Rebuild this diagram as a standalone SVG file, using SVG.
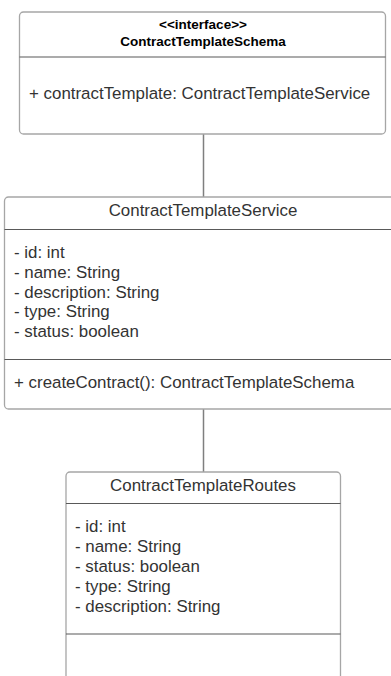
<svg xmlns="http://www.w3.org/2000/svg" width="391" height="676" viewBox="0 0 391 676">
<style>
.box{fill:#fff;stroke:#a6a6a6;stroke-width:1.3}
.div{stroke:#595959;stroke-width:1.2}
.con{stroke:#7f7f7f;stroke-width:1.5;fill:none}
text{font-family:"Liberation Sans",Arial,sans-serif;fill:#333}
.t{font-size:16.9px;text-anchor:middle}
.tb{font-size:13.5px;font-weight:bold;text-anchor:middle;fill:#000}
.a{font-size:16.9px}
</style>
<rect width="391" height="676" fill="#fff"/>
<g id="connectors">
<line class="con" x1="203.5" y1="134" x2="203.5" y2="197"/>
<line class="con" x1="203.5" y1="409" x2="203.5" y2="472"/>
</g>
<g id="ContractTemplateSchema">
<rect class="box" x="19.5" y="12" width="366" height="122" rx="4"/>
<line class="div" x1="19.5" y1="57" x2="385.5" y2="57"/>
<text class="tb" x="203" y="29">&lt;&lt;interface&gt;&gt;</text>
<text class="tb" x="203" y="46">ContractTemplateSchema</text>
<text class="a" x="29" y="99">+ contractTemplate: ContractTemplateService</text>
</g>
<g id="ContractTemplateService">
<rect class="box" x="4.5" y="197" width="390" height="212" rx="4"/>
<line class="div" x1="4.5" y1="229.5" x2="394" y2="229.5"/>
<line class="div" x1="4.5" y1="359.5" x2="394" y2="359.5"/>
<text class="t" x="203" y="216">ContractTemplateService</text>
<text class="a" x="14" y="258">- id: int</text>
<text class="a" x="14" y="277.5">- name: String</text>
<text class="a" x="14" y="297.5">- description: String</text>
<text class="a" x="14" y="317">- type: String</text>
<text class="a" x="14" y="337">- status: boolean</text>
<text class="a" x="14" y="387.5">+ createContract(): ContractTemplateSchema</text>
</g>
<g id="ContractTemplateRoutes">
<rect class="box" x="66" y="472" width="274.5" height="220" rx="4"/>
<line class="div" x1="66" y1="503.5" x2="340.5" y2="503.5"/>
<line class="div" x1="66" y1="634" x2="340.5" y2="634"/>
<text class="t" x="203" y="491">ContractTemplateRoutes</text>
<text class="a" x="75" y="532">- id: int</text>
<text class="a" x="75" y="552">- name: String</text>
<text class="a" x="75" y="572">- status: boolean</text>
<text class="a" x="75" y="592">- type: String</text>
<text class="a" x="75" y="612">- description: String</text>
</g>
</svg>
